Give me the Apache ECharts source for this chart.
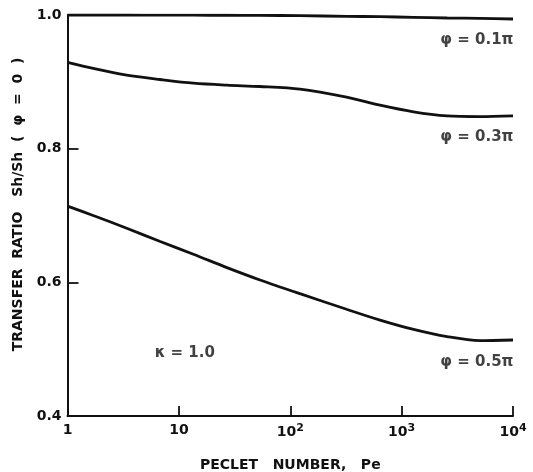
<!DOCTYPE html>
<html><head><meta charset="utf-8">
<script src="https://cdn.jsdelivr.net/npm/echarts@6/dist/echarts.min.js"></script>
<style>html,body{margin:0;padding:0;background:#fff}#c{width:533px;height:472px}</style>
</head><body><div id="c"></div>
<script>
// Peclet numbers (x) at which the curves were read
const pe = [1, 1.7, 3.4, 6.8, 13.5, 27, 53.5, 122, 320, 640, 1280, 2560, 5050, 10000];
// Transfer ratio Sh/Sh(phi=0)
const phi01 = [1.000, 1.000, 1.000, 0.9998, 0.9997, 0.9996, 0.9994, 0.999, 0.998, 0.9975, 0.9965, 0.9955, 0.995, 0.994];
const phi03 = [0.929, 0.920, 0.910, 0.9035, 0.898, 0.895, 0.893, 0.889, 0.877, 0.865, 0.855, 0.849, 0.848, 0.849];
const phi05 = [0.714, 0.700, 0.681, 0.661, 0.642, 0.622, 0.6035, 0.583, 0.5597, 0.5435, 0.5295, 0.5187, 0.5127, 0.5137];
const seriesNames = ['φ=0.1π', 'φ=0.3π', 'φ=0.5π'];
const xTickLabels = ['1', '10', '10^2', '10^3', '10^4'];
const yTickLabels = ['0.4', '0.6', '0.8', '1.0'];
// annotation texts with their data positions [Pe, ratio]
const annotations = [
  { text: 'φ = 0.1π', pe: 4740, v: 0.9626 },
  { text: 'φ = 0.3π', pe: 4740, v: 0.8175 },
  { text: 'φ = 0.5π', pe: 4740, v: 0.481 },
  { text: 'κ = 1.0', pe: 11.3, v: 0.494 }
];

const font = 'DejaVu Sans';
const ink = '#111';
const chart = echarts.init(document.getElementById('c'), null, { renderer: 'canvas' });
const zip = (ys) => pe.map((x, i) => [x, ys[i]]);
const lineSeries = [phi01, phi03, phi05].map((ys, i) => ({
  name: seriesNames[i], type: 'line', data: zip(ys), smooth: 0.3,
  symbol: 'none', lineStyle: { color: ink, width: 2.8 }, silent: true
}));

chart.setOption({
  animation: false,
  grid: { left: 67.5, right: 20, top: 15, bottom: 56, containLabel: false, outerBoundsMode: 'none' },
  xAxis: {
    type: 'log', logBase: 10, min: 1, max: 10000,
    name: 'PECLET   NUMBER,   Pe', nameLocation: 'middle', nameGap: 42,
    nameTextStyle: { fontFamily: font, fontSize: 14, fontWeight: 'bold', color: ink },
    axisLine: { lineStyle: { color: ink, width: 2 } },
    axisTick: { inside: true, length: 10, lineStyle: { color: ink, width: 1.8 } },
    splitLine: { show: false }, minorTick: { show: false },
    axisLabel: {
      margin: 7, fontFamily: font, fontSize: 14, fontWeight: 'bold', color: ink,
      formatter: (v) => {
        const i = Math.round(Math.log10(v));
        const s = xTickLabels[i] || '';
        const p = s.split('^');
        return p.length > 1 ? p[0] + '{sup|' + p[1] + '}' : s;
      },
      rich: { sup: { fontFamily: font, fontSize: 11, fontWeight: 'bold', verticalAlign: 'top', padding: [0, 0, 8, 0], color: ink } }
    }
  },
  yAxis: {
    type: 'value', min: 0.4, max: 1.0, interval: 0.2,
    name: 'TRANSFER  RATIO   Sh/Sh  (  φ  =  0  )', nameLocation: 'middle', nameGap: 39,
    nameTextStyle: { fontFamily: font, fontSize: 14, fontWeight: 'bold', color: ink, padding: [0, 0, 0, 22] },
    axisLine: { show: true, lineStyle: { color: ink, width: 2 } },
    axisTick: { show: true, inside: true, length: 11, lineStyle: { color: ink, width: 1.8 } },
    splitLine: { show: false },
    axisLabel: {
      margin: 6, fontFamily: font, fontSize: 14, fontWeight: 'bold', color: ink,
      formatter: (v) => yTickLabels[Math.round((v - 0.4) / 0.2)] || ''
    }
  },
  series: lineSeries.concat([{
    type: 'scatter', silent: true, symbolSize: 0,
    data: annotations.map(a => ({ value: [a.pe, a.v], name: a.text })),
    label: { show: true, position: 'inside', formatter: (p) => p.name,
      fontFamily: font, fontSize: 15, fontWeight: 'bold', color: ink }
  }])
});
</script></body></html>
